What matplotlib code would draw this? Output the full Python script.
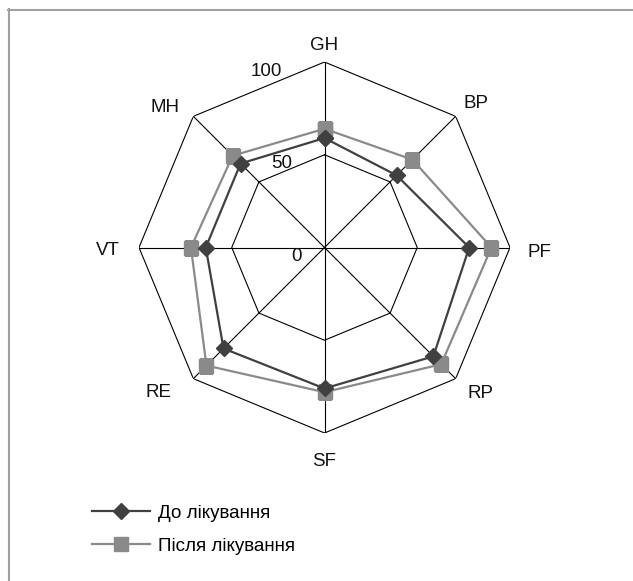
import numpy as np
import matplotlib
matplotlib.use("Agg")
import matplotlib.pyplot as plt
from matplotlib.lines import Line2D

plt.rcParams['font.family'] = ['Liberation Sans', 'DejaVu Sans']

# axes go clockwise from the top
categories = ["GH", "BP", "PF", "RP", "SF", "RE", "VT", "MH"]
before = [59, 55, 78, 83, 76, 77, 64, 64]
after = [64, 67, 90, 89, 78, 90, 72, 70]
ring_ticks = [0, 50, 100]
series_names = ["До лікування", "Після лікування"]

W, H = 633, 581
fig = plt.figure(figsize=(W / 100, H / 100), dpi=100)

cx, cy, R = 324.5, 247.5, 185.5
ax = fig.add_axes([(cx - R) / W, 1 - (cy + R) / H, 2 * R / W, 2 * R / H], projection='polar')
ax.set_theta_zero_location('N')
ax.set_theta_direction(-1)
ax.set_ylim(0, 100)
ax.grid(False)
ax.spines['polar'].set_visible(False)
ax.set_xticks([])
ax.set_yticks([])
ax.patch.set_alpha(0)

n = len(categories)
theta = np.linspace(0, 2 * np.pi, n, endpoint=False)
theta_c = np.append(theta, theta[0])

# octagon grid + spokes
for r in ring_ticks[1:]:
    ax.plot(theta_c, [r] * (n + 1), color='black', lw=0.8, zorder=1)
for t in theta:
    ax.plot([t, t], [0, 100], color='black', lw=0.8, zorder=1)

ax.plot(theta_c, before + before[:1], color='#404040', lw=1.6, marker='D',
        markersize=7.8, zorder=4, label=series_names[0])
ax.plot(theta_c, after + after[:1], color='#8a8a8a', lw=1.6, marker='s',
        markersize=10.5, zorder=3, label=series_names[1])

fs = 13.5
# category labels, offsets in pixels from the outer vertex
label_off = [(0, 17), (20, 13), (29, -5), (25, -15), (0, -28), (-35, -14), (-31, -3), (-28, 9)]
for t, name, off in zip(theta, categories, label_off):
    ax.annotate(name, xy=(t, 100), xytext=off, textcoords='offset pixels',
                ha='center', va='center', fontsize=fs, color='#111111')

# ring value labels along the top axis
for r in ring_ticks:
    ax.annotate(str(r), xy=(0, r), xytext=(-22.5 - r * 0.2, -9), textcoords='offset pixels',
                ha='right', va='center', fontsize=fs, color='#111111')

fig.legend(loc='center left', bbox_to_anchor=(92 / W, 1 - 529.5 / H), frameon=False,
           fontsize=fs, handlelength=3.1, handletextpad=0.4, labelspacing=0.85,
           borderpad=0, borderaxespad=0)

# frame on top and left only
fig.add_artist(Line2D([8 / W, 1], [1 - 9.5 / H, 1 - 9.5 / H], color='#a0a0a0', lw=1.5))
fig.add_artist(Line2D([9 / W, 9 / W], [0, 1 - 9 / H], color='#a0a0a0', lw=1.5))

fig.savefig("out.png", dpi=100, facecolor='white')
